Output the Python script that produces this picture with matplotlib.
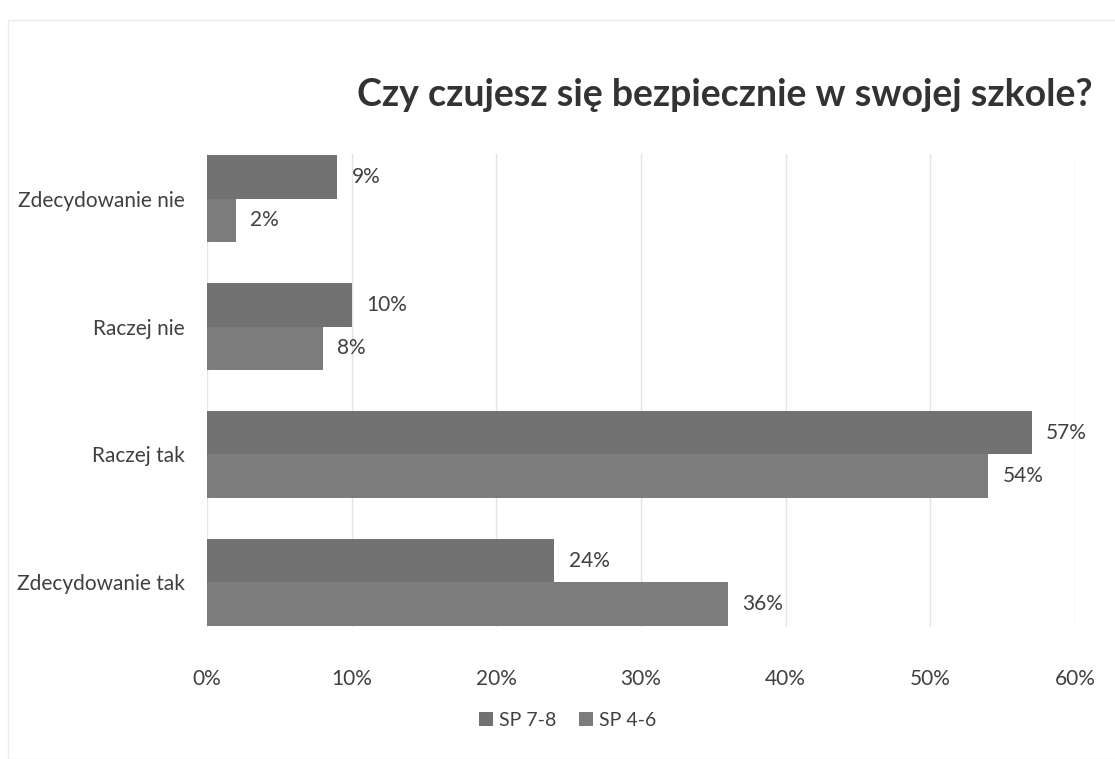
import matplotlib.pyplot as plt
from matplotlib.patches import Rectangle
import numpy as np

plt.rcParams['font.family'] = ['Lato', 'DejaVu Sans']

categories = ['Zdecydowanie nie', 'Raczej nie', 'Raczej tak', 'Zdecydowanie tak']
sp78 = [9, 10, 57, 24]
sp46 = [2, 8, 54, 36]
xticks = [0, 10, 20, 30, 40, 50, 60]

fig = plt.figure(figsize=(11.15, 7.59), dpi=100)
ax = fig.add_axes([207/1115, 1-627/759, (1075-207)/1115, (627-154)/759])

y = np.arange(len(categories))
h = 0.34
b1 = ax.barh(y - h/2, sp78, height=h, color='#727272', label='SP 7-8')
b2 = ax.barh(y + h/2, sp46, height=h, color='#7c7c7c', label='SP 4-6')

for bars, vals in ((b1, sp78), (b2, sp46)):
    for bar, v in zip(bars, vals):
        ax.text(v + 1.0, bar.get_y() + bar.get_height()/2, f'{v}%',
                va='center', ha='left', fontsize=15, color='#404040')

ax.set_ylim(3.35, -0.35)
ax.set_xlim(0, 60)
ax.set_xticks(xticks)
ax.set_xticklabels([f'{t}%' for t in xticks], fontsize=15, color='#404040')
ax.set_yticks(y)
ax.set_yticklabels(categories, fontsize=15, color='#404040')
ax.tick_params(axis='x', length=0, pad=30)
ax.tick_params(axis='y', length=0, pad=16)
ax.grid(axis='x', color='#e4e4e4', linewidth=1)
ax.set_axisbelow(True)
for s in ax.spines.values():
    s.set_visible(False)

fig.text(0.650, 0.875, 'Czy czujesz się bezpiecznie w swojej szkole?',
         ha='center', va='center', fontsize=27, fontweight='bold', color='#333333')

leg = fig.legend(handles=[b1, b2], loc='center', bbox_to_anchor=(0.509, 1-720/759),
                 ncol=2, frameon=False, fontsize=14, handlelength=0.7, handleheight=0.7,
                 handletextpad=0.3, columnspacing=1.2)
for t in leg.get_texts():
    t.set_color('#404040')

# faint outer chart frame
fig.add_artist(Rectangle((8/1115, 0), 1.0, 1-20/759, transform=fig.transFigure,
                         fill=False, edgecolor='#ececec', linewidth=1))

fig.savefig('out.png', dpi=100)
